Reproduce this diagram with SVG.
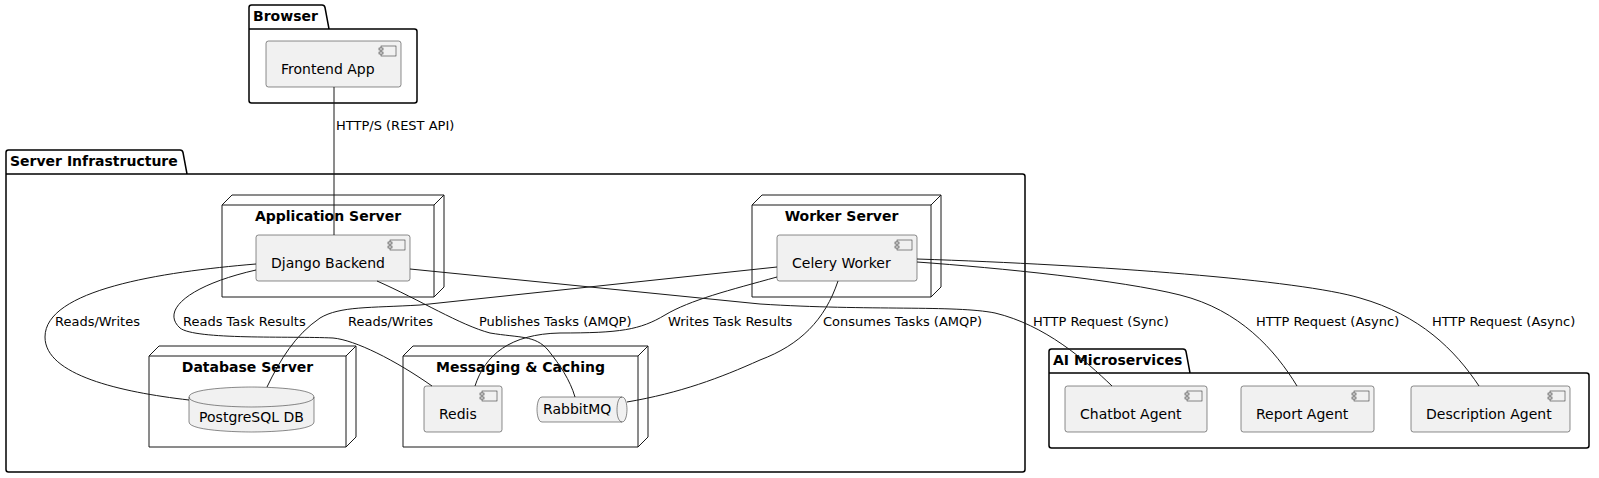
<svg xmlns="http://www.w3.org/2000/svg" width="1599" height="478" viewBox="0 0 1599 478">
<style>
text{font-family:"DejaVu Sans","Liberation Sans",sans-serif;fill:#000}
.t{font-size:14px;font-weight:bold}
.c{font-size:14px}
.l{font-size:13px}
.pkg{fill:none;stroke:#000;stroke-width:1.5}
.node{fill:none;stroke:#181818;stroke-width:1}
.comp{fill:#F1F1F1;stroke:#181818;stroke-width:0.5}
.ico{fill:#F1F1F1;stroke:#181818;stroke-width:0.5}
.edge{fill:none;stroke:#181818;stroke-width:1}
</style>
<defs>
<g id="icon">
<rect class="ico" x="0" y="0" width="15" height="10"/>
<rect class="ico" x="-2" y="2" width="4" height="2"/>
<rect class="ico" x="-2" y="6" width="4" height="2"/>
</g>
</defs>

<g id="pkg-browser">
<path class="pkg" d="M249,29 L249,7.5 Q249,5 251.5,5 L322,5 Q324.5,5 325,7.5 L329,29 L414.5,29 Q417,29 417,31.5 L417,100.5 Q417,103 414.5,103 L251.5,103 Q249,103 249,100.5 Z M249,29 L329,29"/>
<text class="t" x="253" y="21">Browser</text>
</g>

<g id="pkg-server">
<path class="pkg" d="M6,174 L6,152.5 Q6,150 8.5,150 L180,150 Q182.5,150 183,152.5 L187,174 L1022.5,174 Q1025,174 1025,176.5 L1025,469.5 Q1025,472 1022.5,472 L8.5,472 Q6,472 6,469.5 Z M6,174 L187,174"/>
<text class="t" x="10" y="166">Server Infrastructure</text>
</g>

<g id="pkg-ai">
<path class="pkg" d="M1049,373 L1049,351.5 Q1049,349 1051.5,349 L1183,349 Q1185.5,349 1186,351.5 L1190,373 L1586.5,373 Q1589,373 1589,375.5 L1589,445.5 Q1589,448 1586.5,448 L1051.5,448 Q1049,448 1049,445.5 Z M1049,373 L1190,373"/>
<text class="t" x="1053" y="365">AI Microservices</text>
</g>

<g id="node-app">
<path class="node" d="M222,205 L232,195 L444,195 L444,287 L434,297 L222,297 Z M222,205 L434,205 L444,195 M434,205 L434,297"/>
<text class="t" x="328" y="221" text-anchor="middle">Application Server</text>
</g>

<g id="node-worker">
<path class="node" d="M752,205 L762,195 L941,195 L941,287 L931,297 L752,297 Z M752,205 L931,205 L941,195 M931,205 L931,297"/>
<text class="t" x="841.5" y="221" text-anchor="middle">Worker Server</text>
</g>

<g id="node-db">
<path class="node" d="M149,356 L159,346 L356,346 L356,437 L346,447 L149,447 Z M149,356 L346,356 L356,346 M346,356 L346,447"/>
<text class="t" x="247.5" y="372" text-anchor="middle">Database Server</text>
</g>

<g id="node-msg">
<path class="node" d="M403,356 L413,346 L648,346 L648,437 L638,447 L403,447 Z M403,356 L638,356 L648,346 M638,356 L638,447"/>
<text class="t" x="520.5" y="372" text-anchor="middle">Messaging &amp; Caching</text>
</g>

<g id="frontend">
<rect class="comp" x="266" y="41" width="135" height="46" rx="2.5"/>
<use href="#icon" x="381" y="46"/>
<text class="c" x="281" y="74">Frontend App</text>
</g>

<g id="django">
<rect class="comp" x="256" y="235" width="154" height="46" rx="2.5"/>
<use href="#icon" x="390" y="240"/>
<text class="c" x="271" y="268">Django Backend</text>
</g>

<g id="celery">
<rect class="comp" x="777" y="235" width="140" height="46" rx="2.5"/>
<use href="#icon" x="897" y="240"/>
<text class="c" x="792" y="268">Celery Worker</text>
</g>

<g id="postgres">
<path class="comp" d="M189,397 C189,387 251.5,387 251.5,387 C251.5,387 314,387 314,397 L314,422 C314,432 251.5,432 251.5,432 C251.5,432 189,432 189,422 Z"/>
<path class="comp" style="fill:none" d="M189,397 C189,407 251.5,407 251.5,407 C251.5,407 314,407 314,397"/>
<text class="c" x="251.5" y="422" text-anchor="middle">PostgreSQL DB</text>
</g>

<g id="redis">
<rect class="comp" x="424" y="386" width="78" height="46" rx="2.5"/>
<use href="#icon" x="482" y="391"/>
<text class="c" x="439" y="419">Redis</text>
</g>

<g id="rabbitmq">
<path class="comp" d="M542,397 L622,397 C627,397 627,409.5 627,409.5 C627,409.5 627,422 622,422 L542,422 C537,422 537,409.5 537,409.5 C537,409.5 537,397 542,397 Z"/>
<path class="comp" style="fill:none" d="M622,397 C617,397 617,409.5 617,409.5 C617,422 622,422 622,422"/>
<text class="c" x="543" y="414">RabbitMQ</text>
</g>

<g id="chatbot">
<rect class="comp" x="1065" y="386" width="142" height="46" rx="2.5"/>
<use href="#icon" x="1187" y="391"/>
<text class="c" x="1080" y="419">Chatbot Agent</text>
</g>

<g id="report">
<rect class="comp" x="1241" y="386" width="133" height="46" rx="2.5"/>
<use href="#icon" x="1354" y="391"/>
<text class="c" x="1256" y="419">Report Agent</text>
</g>

<g id="description">
<rect class="comp" x="1411" y="386" width="159" height="46" rx="2.5"/>
<use href="#icon" x="1550" y="391"/>
<text class="c" x="1426" y="419">Description Agent</text>
</g>

<g id="connectors">
<path class="edge" d="M334,87 L334,235"/>
<path class="edge" d="M256,264 C160,272 45,290 45,337 C45,375 120,392 189,400"/>
<path class="edge" d="M256,270 C190,285 160,310 180,328 C195,340 290,336 333,338 C355,340 395,360 432,386"/>
<path class="edge" d="M777,267 L420,305 C370,308 340,306 320,318 C295,335 280,360 267,387"/>
<path class="edge" d="M777,277 C730,290 690,300 665,315 C640,330 620,333 560,333 C510,334 485,355 475,386"/>
<path class="edge" d="M377,281 C420,300 460,325 490,333 C520,338 535,335 548,350 C560,365 570,380 575,397"/>
<path class="edge" d="M838,281 C825,320 800,345 760,360 C720,378 680,393 627,402"/>
<path class="edge" d="M410,269 L760,304 C870,311 955,305 995,313 C1045,325 1085,360 1112,386"/>
<path class="edge" d="M917,262 C1000,268 1120,280 1180,295 C1240,310 1275,350 1297,386"/>
<path class="edge" d="M917,259 C1100,265 1300,280 1360,298 C1420,315 1455,350 1479,386"/>
<text class="l" x="336" y="130">HTTP/S (REST API)</text>
<text class="l" x="55" y="326">Reads/Writes</text>
<text class="l" x="183" y="326">Reads Task Results</text>
<text class="l" x="348" y="326">Reads/Writes</text>
<text class="l" x="479" y="326">Publishes Tasks (AMQP)</text>
<text class="l" x="668" y="326">Writes Task Results</text>
<text class="l" x="823" y="326">Consumes Tasks (AMQP)</text>
<text class="l" x="1033" y="326">HTTP Request (Sync)</text>
<text class="l" x="1256" y="326">HTTP Request (Async)</text>
<text class="l" x="1432" y="326">HTTP Request (Async)</text>
</g>
</svg>
